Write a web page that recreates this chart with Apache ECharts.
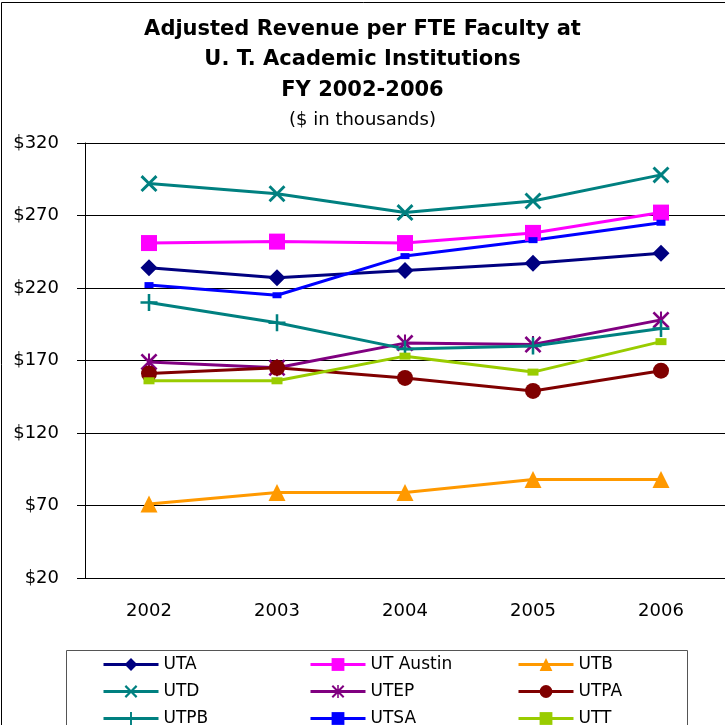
<!DOCTYPE html>
<html>
<head>
<meta charset="utf-8">
<title>Adjusted Revenue per FTE Faculty</title>
<script src="https://cdn.jsdelivr.net/npm/echarts@6/dist/echarts.min.js"></script>
<style>
  html, body { margin: 0; padding: 0; background: #fff; }
  #myChart { width: 725px; height: 725px; }
</style>
</head>
<body>
<div id="myChart"></div>
<script>
// values ($ in thousands)
var years = ['2002', '2003', '2004', '2005', '2006'];
var yTicks = [20, 70, 120, 170, 220, 270, 320];

var uta      = [234, 227, 232, 237, 244];
var utAustin = [251, 252, 251, 258, 272];
var utb      = [71, 79, 79, 88, 88];
var utd      = [292, 285, 272, 280, 298];
var utep     = [169, 165, 182, 181, 198];
var utpa     = [161, 165, 158, 149, 163];
var utpb     = [210, 196, 178, 180, 192];
var utsa     = [222, 215, 242, 253, 265];
var utt      = [156, 156, 173, 162, 183];

var legendCols = [
    ['UTA', 'UTD', 'UTPB'],
    ['UT Austin', 'UTEP', 'UTSA'],
    ['UTB', 'UTPA', 'UTT']
];

// marker shapes like the excel ones
var xMark = 'path://M0,2.4L2.4,0L10,7.6L17.6,0L20,2.4L12.4,10L20,17.6L17.6,20L10,12.4L2.4,20L0,17.6L7.6,10Z';
var starMark = 'path://M0,2.2L2.2,0L10,7.8L17.8,0L20,2.2L12.2,10L20,17.8L17.8,20L10,12.2L2.2,20L0,17.8L7.8,10Z M8.8,0L11.2,0L11.2,20L8.8,20Z';
var plusMark = 'path://M8.5,0L11.5,0L11.5,8.5L20,8.5L20,11.5L11.5,11.5L11.5,20L8.5,20L8.5,11.5L0,11.5L0,8.5L8.5,8.5Z';

var font = 'DejaVu Sans';

function makeSeries(name, data, color, symbol, size) {
    return {
        name: name,
        type: 'line',
        data: data,
        symbol: symbol,
        symbolSize: size,
        showAllSymbol: true,
        itemStyle: {color: color},
        lineStyle: {color: color, width: 3},
        emphasis: {disabled: true},
        animation: false
    };
}

var legends = legendCols.map(function (names, i) {
    return {
        data: names,
        orient: 'vertical',
        left: [102, 309, 517][i],
        top: 656,
        height: 90,
        padding: 0,
        itemWidth: 55,
        itemHeight: 16,
        itemGap: 10,
        selectedMode: false,
        lineStyle: {width: 3},
        textStyle: {fontFamily: font, fontSize: 17, color: '#000'}
    };
});

var option = {
    backgroundColor: '#fff',
    animation: false,
    title: [
        {
            text: 'Adjusted Revenue per FTE Faculty at\nU. T. Academic Institutions\nFY 2002-2006',
            left: 'center',
            top: 9,
            textStyle: {fontFamily: font, fontSize: 21, fontWeight: 'bold', lineHeight: 30.5, color: '#000'}
        },
        {
            text: '($ in thousands)',
            left: 'center',
            top: 106,
            textStyle: {fontFamily: font, fontSize: 18, fontWeight: 'normal', color: '#000'}
        }
    ],
    legend: legends,
    grid: {left: 85, top: 143, right: -8, bottom: 147},
    xAxis: {
        type: 'category',
        data: years,
        boundaryGap: true,
        axisLine: {lineStyle: {color: '#000', width: 1}},
        axisTick: {length: 7, lineStyle: {color: '#000'}},
        axisLabel: {fontFamily: font, fontSize: 18, color: '#000', margin: 24}
    },
    yAxis: {
        type: 'value',
        min: yTicks[0],
        max: yTicks[yTicks.length - 1],
        interval: 50,
        axisLine: {show: true, lineStyle: {color: '#000', width: 1}},
        axisTick: {show: true, length: 8, lineStyle: {color: '#000'}},
        splitLine: {lineStyle: {color: '#000', width: 1}},
        axisLabel: {
            fontFamily: font, fontSize: 18, color: '#000', margin: 26,
            formatter: function (value) {
                return '$' + value;
            }
        }
    },
    graphic: [
        {
            type: 'rect',
            shape: {x: 1.5, y: 2.5, width: 800, height: 800},
            style: {fill: 'none', stroke: '#000', lineWidth: 1},
            silent: true,
            z: -1
        },
        {
            type: 'rect',
            shape: {x: 66.5, y: 650.5, width: 621, height: 200},
            style: {fill: 'none', stroke: '#555', lineWidth: 1},
            silent: true
        }
    ],
    series: [
        makeSeries('UTA', uta, '#000080', 'diamond', 17),
        makeSeries('UT Austin', utAustin, '#FF00FF', 'rect', 16),
        makeSeries('UTB', utb, '#FF9900', 'triangle', 17),
        makeSeries('UTD', utd, '#008080', xMark, 17),
        makeSeries('UTEP', utep, '#800080', starMark, 17),
        makeSeries('UTPA', utpa, '#800000', 'circle', 16),
        makeSeries('UTPB', utpb, '#008080', plusMark, 17),
        makeSeries('UTSA', utsa, '#0000FF', 'rect', [9, 6]),
        makeSeries('UTT', utt, '#99CC00', 'rect', [11, 7])
    ]
};

var myChart = echarts.init(document.getElementById('myChart'));
myChart.setOption(option);
</script>
</body>
</html>
